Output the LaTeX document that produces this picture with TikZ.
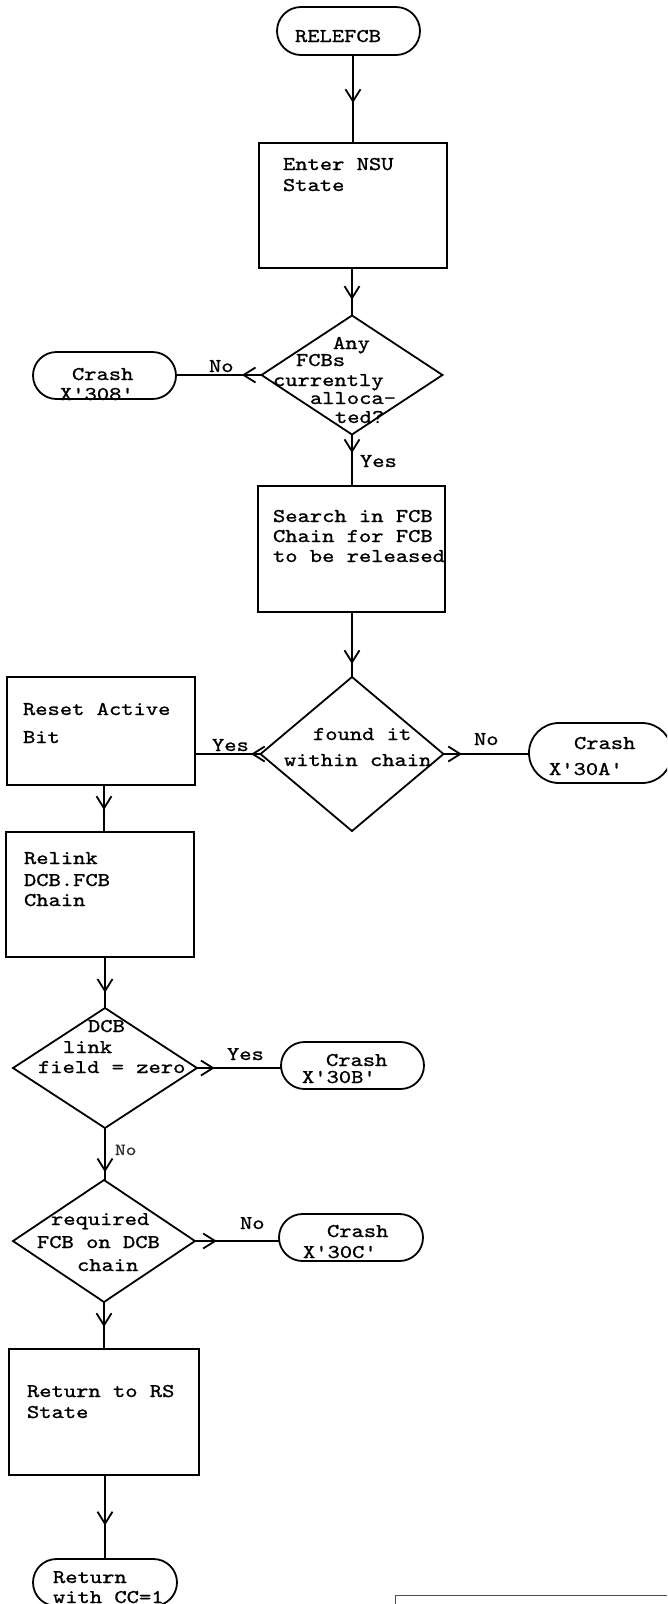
\documentclass[tikz,border=0pt]{standalone}
\usepackage{fontspec}
\newfontfamily\tyfont{lmmono10-regular.otf}[FakeStretch=1.2,FakeBold=1]
\usetikzlibrary{shapes.geometric,shapes.misc,arrows.meta,decorations.markings}
\tikzset{
  base/.style={draw=black, line width=1.8pt, inner sep=0pt, outer sep=0pt},
  term/.style={base, rounded rectangle},
  proc/.style={base, rectangle},
  dec/.style={base, diamond},
  txt/.style={anchor=base west, inner sep=0pt, outer sep=0pt, font=\tyfont\fontsize{19.5}{20}\selectfont},
  smalltxt/.style={anchor=base west, inner sep=0pt, outer sep=0pt, text=black!80, font=\tyfont\fontsize{17}{18}\selectfont},
  flow/.style={line width=1.8pt, postaction={decorate, decoration={markings,
      mark=at position #1 with {\arrow{Straight Barb[length=12pt,width=15pt,line width=1.8pt]}}}}}
}
\begin{document}
\begin{tikzpicture}[x=1pt,y=-1pt]
\useasboundingbox (0,0) rectangle (667,1604);
\clip (0,0) rectangle (667,1604);
\fill[white] (0,0) rectangle (667,1604);

% shapes
\node[term, minimum width=143, minimum height=48] (t0) at (348.5,31) {};
\node[proc, minimum width=188, minimum height=125] (b1) at (353,205.5) {};
\node[dec, minimum width=181, minimum height=119] (d1) at (352,375) {};
\node[term, minimum width=143, minimum height=47] (t1) at (104.5,375.5) {};
\node[proc, minimum width=187, minimum height=126] (b2) at (351.5,549) {};
\node[dec, minimum width=183, minimum height=154] (d2) at (352,754) {};
\node[term, minimum width=143, minimum height=60] (t2) at (600.5,753) {};
\node[proc, minimum width=188, minimum height=108] (b3) at (101,731) {};
\node[proc, minimum width=188, minimum height=125] (b4) at (100,894.5) {};
\node[dec, minimum width=184, minimum height=120] (d3) at (105,1068) {};
\node[term, minimum width=143, minimum height=47] (t3) at (352.5,1065.5) {};
\node[dec, minimum width=182, minimum height=122] (d4) at (104,1241) {};
\node[term, minimum width=144, minimum height=47] (t4) at (351,1237.5) {};
\node[proc, minimum width=190, minimum height=126] (b5) at (104,1412) {};
\node[term, minimum width=144, minimum height=47] (t5) at (105,1582.5) {};

% connectors
\draw[flow=0.545] (b1.north |- t0.south) -- (b1.north);
\draw[flow=0.67] (b1.south -| d1.north) -- (d1.north);
\draw[flow=0.23] (d1.west) -- (t1.east |- d1.west);
\draw[flow=0.36] (d1.south) -- (d1.south |- b2.north);
\draw[flow=0.8] (b2.south -| d2.north) -- (d2.north);
\draw[flow=0.145] (d2.west) -- (b3.east |- d2.west);
\draw[flow=0.216] (d2.east) -- (t2.west |- d2.east);
\draw[flow=0.53] (b3.south -| 104,0) -- (b4.north -| 104,0);
\draw[flow=0.7] (b4.south -| d3.north) -- (d3.north);
\draw[flow=0.21] (d3.east) -- (t3.west |- d3.east);
\draw[flow=0.85] (d3.south) -- (d3.south |- d4.north);
\draw[flow=0.26] (d4.east) -- (t4.west |- d4.east);
\draw[flow=0.53] (d4.south) -- (d4.south |- b5.north);
\draw[flow=0.6] (b5.south -| t5.north) -- (t5.north);

% texts
\node[txt] (x1) at (295,42) {RELEFCB};
\node[txt] (x2) at (283,170) {Enter NSU};
\node[txt] (x3) at (283,191) {State};
\node[txt] (x4) at (333,349) {Any};
\node[txt] (x5) at (296,366) {FCBs};
\node[txt] (x6) at (273,386) {currently};
\node[txt] (x7) at (310,404) {alloca-};
\node[txt] (x8) at (335,423) {ted?};
\node[txt] (x9) at (209,372) {No};
\node[txt] (x10) at (72,380) {Crash};
\node[txt] (x11) at (60,400) {X'308'};
\node[txt] (x12) at (360,467) {Yes};
\node[txt] (x13) at (273,522) {Search in FCB};
\node[txt] (x14) at (273,542) {Chain for FCB};
\node[txt] (x15) at (273,562) {to be released};
\node[txt] (x16) at (313,740) {found it};
\node[txt] (x17) at (284,766) {within chain};
\node[txt] (x18) at (212,751) {Yes};
\node[txt] (x19) at (474,745) {No};
\node[txt] (x20) at (574,749) {Crash};
\node[txt] (x21) at (549,775) {X'30A'};
\node[txt] (x22) at (23,715) {Reset Active};
\node[txt] (x23) at (23,743) {Bit};
\node[txt] (x24) at (24,864) {Relink};
\node[txt] (x25) at (24,886) {DCB.FCB};
\node[txt] (x26) at (24,906) {Chain};
\node[txt] (x27) at (88,1032) {DCB};
\node[txt] (x28) at (63,1053) {link};
\node[txt] (x29) at (38,1073) {field = zero};
\node[txt] (x30) at (227,1060) {Yes};
\node[txt] (x31) at (326,1066) {Crash};
\node[txt] (x32) at (302,1083) {X'30B'};
\node[smalltxt] (x33) at (115,1155) {No};
\node[txt] (x34) at (51,1225) {required};
\node[txt] (x35) at (37,1248) {FCB on DCB};
\node[txt] (x36) at (77,1271) {chain};
\node[txt] (x37) at (240,1229) {No};
\node[txt] (x38) at (327,1237) {Crash};
\node[txt] (x39) at (303,1258) {X'30C'};
\node[txt] (x40) at (27,1397) {Return to RS};
\node[txt] (x41) at (27,1418) {State};
\node[txt] (x42) at (53,1583) {Return};
\node[txt] (x43) at (53,1603) {with CC=1};

% corner of a cut-off page fragment
\coordinate (f0) at (395,1604);
\coordinate (f1) at (395,1595);
\coordinate (f2) at (667,1595);
\draw[line width=0.8pt, black!70] (f0) -- (f1) -- (f2);
\end{tikzpicture}
\end{document}
